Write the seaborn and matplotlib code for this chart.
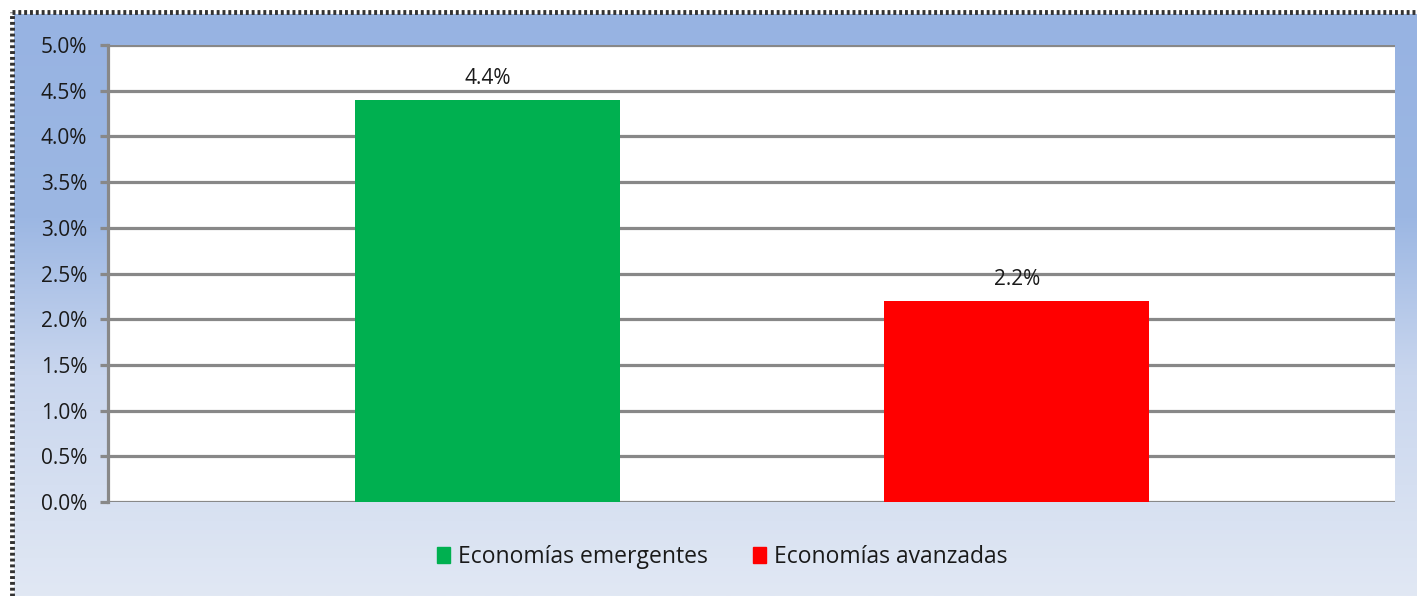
import numpy as np
import matplotlib
matplotlib.use("Agg")
import matplotlib.pyplot as plt
from matplotlib.colors import LinearSegmentedColormap
from matplotlib.ticker import FuncFormatter, MultipleLocator
from matplotlib.patches import Rectangle
import seaborn as sns

categorias = ["Economías emergentes", "Economías avanzadas"]
valores = [0.044, 0.022]
etiquetas = ["4.4%", "2.2%"]
colores = ["#00b050", "#ff0000"]

sns.set_theme(style="white")
plt.rcParams["font.family"] = ["Open Sans", "DejaVu Sans"]

W, H = 1417, 596
fig = plt.figure(figsize=(W / 100, H / 100), dpi=100)
fig.patch.set_facecolor("white")

# background gradient panel
bg = fig.add_axes([14 / W, 0, 1 - 14 / W, 1 - 14 / H], zorder=0)
cmap = LinearSegmentedColormap.from_list(
    "bg", [(0.0, "#97b3e2"), (0.35, "#9cb7e3"), (0.62, "#c9d6ee"), (1.0, "#e1e8f4")]
)
grad = np.linspace(0, 1, 256).reshape(-1, 1)
bg.imshow(grad, aspect="auto", cmap=cmap, extent=[0, 1, 0, 1], origin="upper")
bg.set_axis_off()

# dotted border lines (left & top)
fig.add_artist(plt.Line2D([12 / W, 12 / W], [0, 1 - 12 / H], transform=fig.transFigure,
                          color="#333333", lw=3.5, ls=(0, (0.6, 0.6)), zorder=1))
fig.add_artist(plt.Line2D([12 / W, 1], [1 - 12 / H, 1 - 12 / H], transform=fig.transFigure,
                          color="#333333", lw=3.5, ls=(0, (0.6, 0.6)), zorder=1))

left, right, top, bottom = 108 / W, 1395 / W, 1 - 45 / H, 1 - 502 / H
ax = fig.add_axes([left, bottom, right - left, top - bottom], zorder=2)
ax.set_facecolor("white")

sns.barplot(x=categorias, y=valores, hue=categorias, palette=colores, width=0.5,
            legend=False, ax=ax, saturation=1, linewidth=0, zorder=3)

ax.set_xlim(-0.717, 1.715)
ax.set_ylim(0, 0.05)
ax.yaxis.set_major_locator(MultipleLocator(0.005))
ax.yaxis.set_major_formatter(FuncFormatter(lambda v, p: f"{v*100:.1f}%"))
ax.grid(axis="y", color="#888888", lw=2.3, zorder=1)
ax.set_axisbelow(True)
ax.set_xticks([])
ax.set_xlabel("")
ax.set_ylabel("")
for s in ["top", "right", "bottom"]:
    ax.spines[s].set_visible(False)
ax.spines["left"].set_color("#888888")
ax.spines["left"].set_linewidth(2.3)
ax.tick_params(axis="y", left=True, length=6, width=2.3, color="#888888",
               labelsize=15, labelcolor="#1a1a1a", pad=9)

for cont, lab in zip(ax.containers, etiquetas):
    ax.bar_label(cont, labels=[lab], padding=8, fontsize=15, color="#1a1a1a")

handles = [Rectangle((0, 0), 1, 1, color=c) for c in colores]
fig.legend(handles, categorias, loc="center", bbox_to_anchor=(0.5097, 1 - 557 / H),
           ncol=2, frameon=False, fontsize=16.5, handlelength=0.55, handleheight=0.7,
           handletextpad=0.35, columnspacing=2.0, labelcolor="#1a1a1a")

fig.savefig("out.png", dpi=100)
